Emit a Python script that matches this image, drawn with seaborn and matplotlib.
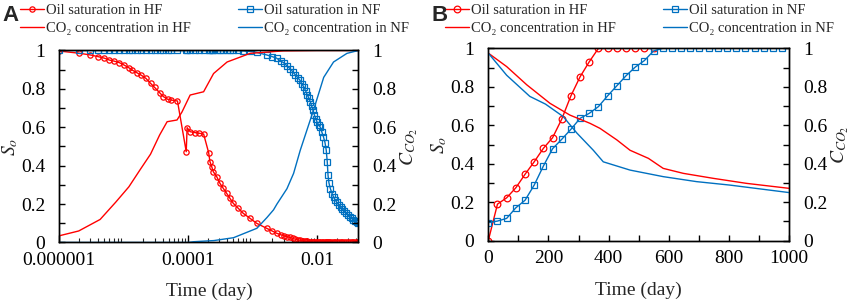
import numpy as np
import matplotlib
matplotlib.use("Agg")
import matplotlib.pyplot as plt
import matplotlib.ticker as mticker
import seaborn as sns

# ---- data, panel A (log time) ----
t_a = [1e-6, 2e-6, 3e-6, 4e-6, 5e-6, 6e-6, 7e-6, 8.5e-6, 1e-5, 1.2e-5, 1.35e-5,
       1.6e-5, 1.85e-5, 2.2e-5, 2.6e-5, 3e-5, 3.6e-5, 4.1e-5, 4.8e-5, 5.4e-5, 6.8e-5,
       9.3e-5, 9.6e-5, 1.07e-4, 1.29e-4, 1.48e-4, 1.73e-4, 2.07e-4,
       2.17e-4, 2.31e-4, 2.44e-4, 2.76e-4, 3.1e-4, 3.49e-4, 3.94e-4, 4.43e-4, 4.99e-4,
       5.96e-4, 7.12e-4, 9.05e-4, 1.15e-3, 1.64e-3,
       2.0e-3, 2.35e-3, 2.7e-3, 3.0e-3, 3.4e-3, 3.8e-3, 4.2e-3, 4.6e-3, 5.0e-3, 5.4e-3,
       5.8e-3, 6.2e-3, 6.6e-3, 7.0e-3, 7.4e-3, 7.8e-3, 8.2e-3, 8.6e-3, 9.0e-3, 9.5e-3,
       1.0e-2, 1.06e-2, 1.12e-2, 1.18e-2, 1.25e-2, 1.32e-2, 1.38e-2, 1.43e-2, 1.47e-2,
       1.52e-2, 1.6e-2, 1.7e-2, 1.8e-2, 1.9e-2, 2.0e-2, 2.15e-2, 2.3e-2, 2.45e-2, 2.6e-2,
       2.8e-2, 3.0e-2, 3.2e-2, 3.4e-2, 3.6e-2, 3.85e-2, 4.1e-2, 4.35e-2]
so_hf_a = [0.997, 0.986, 0.977, 0.968, 0.96, 0.95, 0.945, 0.937, 0.925, 0.91, 0.898,
           0.884, 0.872, 0.855, 0.829, 0.808, 0.78, 0.76, 0.746, 0.742, 0.737,
           0.473, 0.598, 0.577, 0.572, 0.569, 0.565, 0.468,
           0.421, 0.395, 0.369, 0.343, 0.308, 0.282, 0.256, 0.23, 0.204,
           0.178, 0.152, 0.126, 0.1, 0.074,
           0.06, 0.048, 0.041, 0.035, 0.03, 0.026, 0.021, 0.017, 0.014, 0.012,
           0.01, 0.008, 0.007, 0.006, 0.005, 0.004, 0.003, 0.002, 0.002, 0.001,
           0, 0, 0, 0, 0, 0, 0, 0, 0,
           0, 0, 0, 0, 0, 0, 0, 0, 0, 0,
           0, 0, 0, 0, 0, 0, 0, 0]
so_nf_a = [1, 1, 1, 1, 1, 1, 1, 1, 1, 1, 1,
           1, 1, 1, 1, 1, 1, 1, 1, 1, 1,
           1, 1, 1, 1, 1, 1, 1,
           1, 1, 1, 1, 1, 1, 1, 1, 1,
           1, 0.998, 0.995, 0.99, 0.977,
           0.968, 0.96, 0.945, 0.937, 0.92, 0.905, 0.888, 0.872, 0.858, 0.845,
           0.825, 0.81, 0.79, 0.77, 0.752, 0.733, 0.71, 0.69, 0.665, 0.645,
           0.625, 0.61, 0.6, 0.575, 0.55, 0.52, 0.48, 0.42, 0.35,
           0.31, 0.28, 0.255, 0.235, 0.222, 0.21, 0.195, 0.184, 0.175, 0.166,
           0.155, 0.145, 0.135, 0.126, 0.118, 0.112, 0.106, 0.103]

t_co2_hf_a = [1e-6, 2e-6, 4.3e-6, 7.5e-6, 1.2e-5, 1.8e-5, 2.6e-5, 3.6e-5, 4.7e-5, 6.7e-5,
              8e-5, 1.07e-4, 1.73e-4, 2.47e-4, 4e-4, 9.1e-4, 3e-3, 1e-2, 4.35e-2]
co2_hf_a = [0.035, 0.06, 0.12, 0.21, 0.29, 0.38, 0.46, 0.56, 0.629, 0.638,
            0.68, 0.768, 0.785, 0.88, 0.94, 0.985, 0.998, 1.0, 1.0]
t_co2_nf_a = [1e-6, 1e-4, 1.21e-4, 2.5e-4, 5.04e-4, 1.16e-3, 1.66e-3, 2.1e-3, 2.37e-3,
              3.39e-3, 4.3e-3, 5.45e-3, 8.77e-3, 1.26e-2, 1.79e-2, 2.89e-2, 4.35e-2]
co2_nf_a = [0, 0, 0.004, 0.01, 0.025, 0.074, 0.13, 0.17, 0.2,
            0.28, 0.36, 0.48, 0.69, 0.86, 0.94, 0.985, 1.0]

# ---- data, panel B (linear time) ----
t_hf_b = [0, 30.5, 61, 91.5, 122, 152.5, 183, 213.5, 244, 274.5, 305, 335.5, 366,
          396.5, 427, 457.5, 488, 518.5, 549]
so_hf_b = [0, 0.19, 0.223, 0.275, 0.345, 0.41, 0.48, 0.535, 0.632, 0.753, 0.852, 0.93, 1.0,
           1.0, 1.0, 1.0, 1.0, 1.0, 1.0]
t_nf_b = [0, 30.5, 61, 91.5, 122, 152.5, 183, 213.5, 244, 274.5, 305, 335.5, 366,
          396.5, 427, 457.5, 488, 518.5, 549, 579.5, 610, 640.5, 671, 701.5, 732,
          762.5, 793, 823.5, 854, 884.5, 915, 945.5, 976]
so_nf_b = [0.094, 0.102, 0.116, 0.171, 0.21, 0.289, 0.388, 0.478, 0.527, 0.579, 0.636, 0.662,
           0.697, 0.753, 0.805, 0.857, 0.902, 0.936, 0.986, 1, 1, 1, 1, 1, 1,
           1, 1, 1, 1, 1, 1, 1, 1]
t_co2_hf_b = [0, 61, 128, 205, 271, 338, 371, 427, 471, 532, 581, 648, 748, 858, 1000]
co2_hf_b = [0.975, 0.905, 0.81, 0.714, 0.653, 0.61, 0.584, 0.524, 0.47, 0.428, 0.376,
            0.35, 0.324, 0.298, 0.272]
t_co2_nf_b = [0, 61, 138, 190, 249, 294, 349, 382, 471, 581, 692, 803, 1000]
co2_nf_b = [0.975, 0.86, 0.75, 0.71, 0.645, 0.56, 0.47, 0.41, 0.367, 0.333, 0.307,
            0.289, 0.25]

RED = "#FF0000"
BLUE = "#0070C0"

sns.set_theme(style="ticks")
plt.rcParams["font.family"] = ["Liberation Serif", "DejaVu Serif"]
plt.rcParams["mathtext.fontset"] = "stix"
plt.rcParams["axes.linewidth"] = 1.0

fig = plt.figure(figsize=(8.58, 3.03), dpi=100)
axA = fig.add_axes([0.0691, 0.1997, 0.3487, 0.6337])
axB = fig.add_axes([0.5691, 0.2056, 0.3508, 0.635])


def style_axes(ax, ax2):
    for a in (ax, ax2):
        a.set_ylim(0, 1)
        a.yaxis.set_major_locator(mticker.MultipleLocator(0.2))
        a.yaxis.set_minor_locator(mticker.MultipleLocator(0.1))
        a.yaxis.set_major_formatter(mticker.FuncFormatter(lambda v, p: "%g" % round(v, 2)))
        for s in a.spines.values():
            s.set_visible(True)
            s.set_color("black")
            s.set_linewidth(1.0)
    ax.tick_params(axis="y", which="both", direction="in", length=4, width=1,
                   left=True, right=False, labelsize=14, pad=10, colors="black")
    ax2.tick_params(axis="y", which="both", direction="in", length=4, width=1,
                    left=False, right=True, labelsize=14, pad=10, colors="black")
    ax.set_ylabel("$S_o$", fontsize=14, labelpad=1)
    ax2.set_ylabel("$C_{CO_2}$", fontsize=14, labelpad=1)
    ax.set_xlabel("Time (day)", fontsize=14, labelpad=10)


def make_legend(ax, handles, x):
    ax.legend(handles, [h.get_label() for h in handles], ncol=2, loc="upper left",
              bbox_to_anchor=(x, 0.988), bbox_transform=fig.transFigure, frameon=False,
              fontsize=10.5, handlelength=1.65, handletextpad=0.15, columnspacing=3.2,
              labelspacing=0.36, borderpad=0, borderaxespad=0)


# ---- panel A ----
axA2 = axA.twinx()
sns.lineplot(x=t_a, y=so_hf_a, ax=axA, color=RED, lw=1, marker="o", ms=3.8,
             markerfacecolor="none", markeredgecolor=RED, mew=0.9,
             estimator=None, sort=False, label="Oil saturation in HF", legend=False)
sns.lineplot(x=t_a, y=so_nf_a, ax=axA, color=BLUE, lw=1, marker="s", ms=3.8,
             markerfacecolor="none", markeredgecolor=BLUE, mew=0.9,
             estimator=None, sort=False, label="Oil saturation in NF", legend=False)
sns.lineplot(x=t_co2_hf_a, y=co2_hf_a, ax=axA2, color=RED, lw=1, estimator=None,
             sort=False, label="CO\u2082 concentration in HF", legend=False)
sns.lineplot(x=t_co2_nf_a, y=co2_nf_a, ax=axA2, color=BLUE, lw=1, estimator=None,
             sort=False, label="CO\u2082 concentration in NF", legend=False)
for a in (axA, axA2):
    a.set_xscale("log")
    a.set_xlim(1e-6, 0.0436)
axA.xaxis.set_major_locator(mticker.FixedLocator([1e-6, 1e-4, 1e-2]))
axA.xaxis.set_minor_locator(mticker.LogLocator(base=10, subs=np.arange(2, 10), numticks=20))
axA.xaxis.set_major_formatter(mticker.FuncFormatter(
    lambda v, p: np.format_float_positional(v, trim="-")))
axA.xaxis.set_minor_formatter(mticker.NullFormatter())
axA.tick_params(axis="x", which="major", direction="in", length=5, width=1,
                labelsize=14, pad=7, top=False, colors="black")
axA.tick_params(axis="x", which="minor", direction="in", length=3, width=0.8, top=False)
style_axes(axA, axA2)
hA = axA.get_lines()[:1] + axA2.get_lines()[:1] + axA.get_lines()[1:2] + axA2.get_lines()[1:2]
make_legend(axA, hA, 0.0233)

# ---- panel B ----
axB2 = axB.twinx()
sns.lineplot(x=t_hf_b, y=so_hf_b, ax=axB, color=RED, lw=1, marker="o", ms=4.8,
             markerfacecolor="none", markeredgecolor=RED, mew=0.9,
             estimator=None, sort=False, label="Oil saturation in HF", legend=False)
sns.lineplot(x=t_nf_b, y=so_nf_b, ax=axB, color=BLUE, lw=1, marker="s", ms=4.6,
             markerfacecolor="none", markeredgecolor=BLUE, mew=0.9,
             estimator=None, sort=False, label="Oil saturation in NF", legend=False)
sns.lineplot(x=t_co2_hf_b, y=co2_hf_b, ax=axB2, color=RED, lw=1, estimator=None,
             sort=False, label="CO\u2082 concentration in HF", legend=False)
sns.lineplot(x=t_co2_nf_b, y=co2_nf_b, ax=axB2, color=BLUE, lw=1, estimator=None,
             sort=False, label="CO\u2082 concentration in NF", legend=False)
for a in (axB, axB2):
    a.set_xlim(0, 1000)
axB.xaxis.set_major_locator(mticker.MultipleLocator(200))
axB.xaxis.set_minor_locator(mticker.MultipleLocator(100))
axB.tick_params(axis="x", which="both", direction="in", length=4, width=1,
                labelsize=14, pad=7, top=False, colors="black")
style_axes(axB, axB2)
hB = axB.get_lines()[:1] + axB2.get_lines()[:1] + axB.get_lines()[1:2] + axB2.get_lines()[1:2]
make_legend(axB, hB, 0.5187)

fig.text(0.003, 0.985, "A", fontsize=16, fontweight="bold", family="Liberation Sans",
         va="top", ha="left")
fig.text(0.503, 0.985, "B", fontsize=16, fontweight="bold", family="Liberation Sans",
         va="top", ha="left")

fig.savefig("out.png", dpi=100)
